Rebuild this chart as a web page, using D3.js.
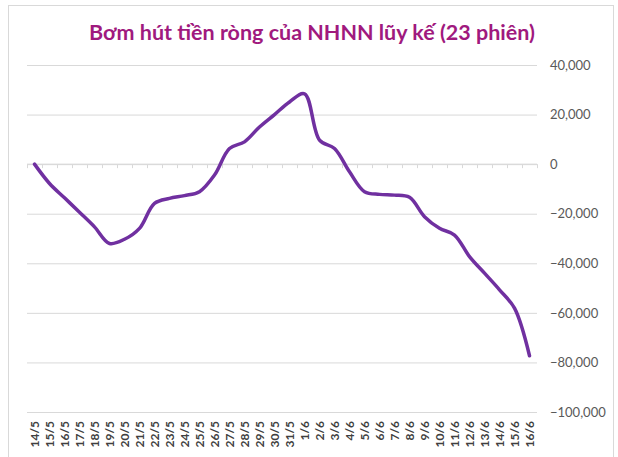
<!DOCTYPE html>
<html>
<head>
<meta charset="utf-8">
<script src="https://cdn.jsdelivr.net/npm/d3@7"></script>
<style>
  body { margin: 0; background: #fff; }
  svg { display: block; }
</style>
</head>
<body>
<div id="chart"></div>
<script>
// categories (ngay) and cumulative net values (ty dong)
const days = ["14/5","15/5","16/5","17/5","18/5","19/5","20/5","21/5","22/5","23/5","24/5","25/5",
  "26/5","27/5","28/5","29/5","30/5","31/5","1/6","2/6","3/6","4/6","5/6","6/6","7/6","8/6",
  "9/6","10/6","11/6","12/6","13/6","14/6","15/6","16/6"];
const values = [0, -7800, -13600, -19400, -25300, -32000, -30300, -25900, -15800, -13800, -12700, -11100,
  -4400, 6300, 9000, 15000, 20000, 25100, 28400, 9700, 6300, -3100, -11100, -12200, -12500, -13400,
  -21200, -25900, -28600, -37300, -44000, -50700, -58100, -77300];
const yTicks = [40000, 20000, 0, -20000, -40000, -60000, -80000, -100000];
const title = "Bơm hút tiền ròng của NHNN lũy kế (23 phiên)";

const W = 618, H = 457;
const plot = { left: 27, right: 537, top: 65, bottom: 412 };

const svg = d3.select("#chart").append("svg")
    .attr("width", W)
    .attr("height", H);

// outer chart border
svg.append("rect")
    .attr("x", 8.5).attr("y", 5.5)
    .attr("width", 605).attr("height", 460)
    .attr("fill", "none")
    .attr("stroke", "#d9d9d9");

svg.append("text")
    .attr("x", 312).attr("y", 40)
    .attr("text-anchor", "middle")
    .style("font-family", "Lato, 'Open Sans', sans-serif")
    .style("font-weight", "bold")
    .style("font-size", "21.5px")
    .attr("fill", "#a0197e")
    .text(title);

const x = d3.scaleBand()
    .domain(days)
    .range([plot.left, plot.right]);

const y = d3.scaleLinear()
    .domain([-100000, 40000])
    .range([plot.bottom, plot.top]);

// gridlines + right labels
const yAxis = svg.append("g")
    .attr("transform", "translate(" + plot.right + ",0)")
    .call(d3.axisRight(y)
        .tickValues(yTicks)
        .tickSize(-(plot.right - plot.left))
        .tickPadding(13)
        .tickFormat(d3.format(",")));
yAxis.select(".domain").remove();
yAxis.selectAll(".tick line").attr("stroke", "#d9d9d9");
yAxis.selectAll(".tick text")
    .attr("fill", "#595959")
    .style("font-family", "Lato, 'Open Sans', sans-serif")
    .style("font-size", "13px");

// category axis on zero line, ticks at band edges
const x0 = svg.append("g")
    .attr("transform", "translate(0," + y(0) + ")");
x0.append("line")
    .attr("x1", plot.left).attr("x2", plot.right)
    .attr("stroke", "#d9d9d9");
x0.selectAll("line.tk")
    .data(days.concat(["end"]))
    .enter().append("line")
    .attr("class", "tk")
    .attr("x1", (d, i) => plot.left + i * x.step() + 0.5)
    .attr("x2", (d, i) => plot.left + i * x.step() + 0.5)
    .attr("y1", 0).attr("y2", 4)
    .attr("stroke", "#d9d9d9");

// labels at the bottom (low position)
svg.append("g").selectAll("text")
    .data(days)
    .enter().append("text")
    .attr("transform", d => "translate(" + (x(d) + x.bandwidth() / 2 + 4) + "," + (plot.bottom + 9) + ") rotate(-90)")
    .attr("text-anchor", "end")
    .attr("fill", "#404040")
    .style("font-family", "Lato, 'Open Sans', sans-serif")
    .style("font-weight", "bold")
    .style("font-size", "12px")
    .text(d => d);

const line = d3.line()
    .x((d, i) => x(days[i]) + x.bandwidth() / 2)
    .y(d => y(d))
    .curve(d3.curveCatmullRom.alpha(0.5));

svg.append("path")
    .datum(values)
    .attr("d", line)
    .attr("fill", "none")
    .attr("stroke", "#7030a0")
    .attr("stroke-width", 3.5)
    .attr("stroke-linecap", "round")
    .attr("stroke-linejoin", "round");
</script>
</body>
</html>
